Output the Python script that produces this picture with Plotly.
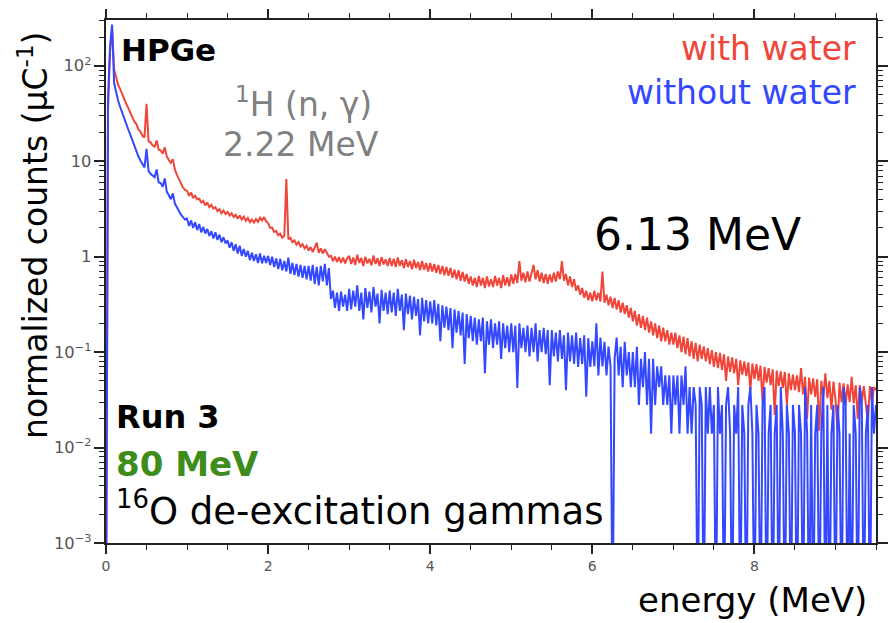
import plotly.graph_objects as go

# ---- data (normalized counts per uC, 25 keV channels) ----
with_water = [
    0.0001, 35, 140, 245, 92, 78, 63, 57, 50, 46, 40, 36, 32, 29.5, 26, 24.5, 21.5, 20.5, 18.5, 17.8,
    40, 16.2, 15.8, 14.6, 14.2, 16.5, 13.2, 13.0, 12.0, 14.0, 11.2, 10.3, 9.6, 10.5, 8.2, 7.2, 6.4, 5.8, 5.3, 5.0,
    4.9, 4.35, 4.7, 4.1, 4.35, 4.0, 4.05, 3.7, 3.85, 3.45, 3.7, 3.3, 3.5, 3.2, 3.3, 3.0, 3.15, 2.85, 3.05, 2.8,
    2.95, 2.7, 2.85, 2.6, 2.75, 2.5, 2.7, 2.45, 2.62, 2.38, 2.55, 2.3, 2.45, 2.28, 2.48, 2.32, 2.56, 2.4, 2.6, 2.35,
    2.25, 2.0, 2.02, 1.82, 1.86, 1.68, 1.74, 1.58, 1.66, 6.5, 1.52, 1.58, 1.42, 1.48, 1.34, 1.42, 1.28, 1.35, 1.22, 1.3,
    1.16, 1.26, 1.12, 1.24, 1.4, 1.1, 1.22, 1.08, 1.2, 1.1, 1.0, 1.02, 0.9, 1.0, 0.88, 0.99, 0.86, 0.98, 0.85, 0.96,
    1.02, 0.84, 0.98, 0.82, 1.05, 0.86, 0.97, 0.8, 1.0, 0.85, 0.95, 0.81, 1.03, 0.84, 0.96, 0.8, 0.99, 0.83, 0.94, 0.8,
    0.97, 0.8, 0.95, 0.78, 0.98, 0.8, 0.92, 0.76, 0.94, 0.78, 0.9, 0.74, 0.93, 0.76, 0.88, 0.72, 0.9, 0.73, 0.86, 0.7,
    0.86, 0.7, 0.84, 0.68, 0.82, 0.66, 0.8, 0.64, 0.78, 0.63, 0.76, 0.6, 0.73, 0.58, 0.72, 0.56, 0.69, 0.55, 0.66, 0.52,
    0.62, 0.5, 0.6, 0.48, 0.63, 0.5, 0.6, 0.47, 0.62, 0.49, 0.58, 0.48, 0.63, 0.5, 0.6, 0.47, 0.64, 0.5, 0.61, 0.49,
    0.65, 0.52, 0.66, 0.53, 0.9, 0.56, 0.68, 0.54, 0.7, 0.55, 0.7, 0.82, 0.58, 0.72, 0.55, 0.68, 0.53, 0.66, 0.52, 0.65,
    0.54, 0.68, 0.55, 0.7, 0.58, 0.9, 0.56, 0.66, 0.5, 0.62, 0.48, 0.58, 0.44, 0.5, 0.4, 0.47, 0.37, 0.44, 0.35, 0.42,
    0.34, 0.44, 0.35, 0.42, 0.34, 0.7, 0.33, 0.4, 0.31, 0.38, 0.29, 0.37, 0.28, 0.35, 0.26, 0.33, 0.25, 0.31, 0.23, 0.29,
    0.21, 0.27, 0.19, 0.25, 0.18, 0.24, 0.17, 0.23, 0.16, 0.21, 0.15, 0.2, 0.14, 0.19, 0.13, 0.18, 0.13, 0.17, 0.12, 0.16,
    0.12, 0.16, 0.11, 0.15, 0.1, 0.145, 0.095, 0.14, 0.09, 0.13, 0.085, 0.125, 0.08, 0.12, 0.085, 0.115, 0.08, 0.11, 0.075, 0.105,
    0.07, 0.1, 0.068, 0.098, 0.065, 0.095, 0.05, 0.09, 0.062, 0.088, 0.06, 0.085, 0.045, 0.082, 0.058, 0.08, 0.056, 0.078, 0.04, 0.076,
    0.052, 0.075, 0.05, 0.072, 0.03, 0.07, 0.048, 0.068, 0.045, 0.066, 0.022, 0.064, 0.044, 0.063, 0.042, 0.062, 0.028, 0.06, 0.04, 0.058,
    0.04, 0.057, 0.038, 0.068, 0.036, 0.055, 0.02, 0.054, 0.036, 0.053, 0.034, 0.052, 0.015, 0.05, 0.034, 0.06, 0.033, 0.05, 0.025, 0.049,
    0.032, 0.015, 0.048, 0.03, 0.047, 0.028, 0.046, 0.03, 0.055, 0.029, 0.045, 0.02, 0.045, 0.03, 0.044, 0.028, 0.018, 0.044, 0.03, 0.043,
    0.04,
]

without_water = [
    0.0001, 45, 160, 270, 66, 52, 43, 37, 32, 28, 24.5, 21.5, 19, 16.5, 14.5, 12.8, 11.2, 10.2, 9.3, 8.6,
    13.5, 7.9, 7.4, 7.0, 6.8, 8.2, 6.0, 5.9, 5.4, 6.6, 4.8, 4.4, 4.0, 4.6, 3.6, 3.3, 3.0, 2.75, 2.6, 2.45,
    2.5, 2.1, 2.4, 2.0, 2.3, 1.9, 2.2, 1.8, 2.05, 1.75, 1.95, 1.65, 1.85, 1.55, 1.8, 1.5, 1.7, 1.42, 1.6, 1.38,
    1.48, 1.24, 1.42, 1.15, 1.35, 1.08, 1.3, 1.02, 1.2, 1.0, 1.15, 0.92, 1.1, 0.9, 1.06, 0.86, 1.08, 0.85, 1.02, 0.86,
    1.02, 0.82, 1.0, 0.78, 0.96, 0.74, 0.95, 0.72, 0.9, 0.7, 0.98, 0.66, 0.86, 0.64, 0.84, 0.62, 0.82, 0.6, 0.8, 0.58,
    0.8, 0.56, 0.82, 0.52, 0.78, 0.5, 0.8, 0.55, 0.84, 0.5, 0.76, 0.36, 0.44, 0.29, 0.42, 0.27, 0.43, 0.3, 0.4, 0.27,
    0.46, 0.28, 0.44, 0.3, 0.5, 0.27, 0.42, 0.22, 0.47, 0.29, 0.43, 0.26, 0.48, 0.3, 0.41, 0.2, 0.45, 0.27, 0.42, 0.25,
    0.44, 0.26, 0.42, 0.24, 0.46, 0.27, 0.4, 0.17, 0.41, 0.25, 0.39, 0.22, 0.38, 0.24, 0.36, 0.15, 0.37, 0.21, 0.35, 0.2,
    0.34, 0.2, 0.35, 0.19, 0.32, 0.13, 0.31, 0.18, 0.3, 0.17, 0.29, 0.11, 0.28, 0.16, 0.27, 0.15, 0.26, 0.075, 0.25, 0.14,
    0.24, 0.13, 0.23, 0.12, 0.22, 0.13, 0.23, 0.06, 0.21, 0.12, 0.22, 0.11, 0.2, 0.12, 0.21, 0.085, 0.2, 0.11, 0.19, 0.1,
    0.2, 0.1, 0.19, 0.042, 0.2, 0.11, 0.18, 0.1, 0.19, 0.09, 0.18, 0.1, 0.2, 0.08, 0.17, 0.1, 0.18, 0.095, 0.17, 0.045,
    0.17, 0.09, 0.16, 0.08, 0.17, 0.085, 0.15, 0.04, 0.16, 0.08, 0.15, 0.075, 0.16, 0.07, 0.14, 0.075, 0.15, 0.034, 0.14, 0.07,
    0.13, 0.071, 0.2, 0.057, 0.142, 0.071, 0.128, 0.057, 0.114, 0.071, 0.0001, 0.085, 0.142, 0.057, 0.114, 0.043, 0.128, 0.057, 0.1, 0.043,
    0.1, 0.043, 0.114, 0.028, 0.085, 0.043, 0.1, 0.028, 0.085, 0.014, 0.085, 0.028, 0.071, 0.043, 0.071, 0.028, 0.057, 0.028, 0.057, 0.014,
    0.057, 0.028, 0.057, 0.014, 0.057, 0.028, 0.071, 0.014, 0.043, 0.014, 0.043, 0.028, 0.0001, 0.043, 0.028, 0.0001, 0.043, 0.014, 0.043, 0.014,
    0.028, 0.0001, 0.043, 0.014, 0.028, 0.0001, 0.028, 0.043, 0.014, 0.0001, 0.028, 0.014, 0.043, 0.0001, 0.028, 0.014, 0.0001, 0.028, 0.043, 0.014,
    0.0001, 0.028, 0.014, 0.0001, 0.028, 0.043, 0.0001, 0.014, 0.028, 0.0001, 0.014, 0.028, 0.0001, 0.043, 0.014, 0.0001, 0.028, 0.014, 0.0001, 0.028,
    0.014, 0.0001, 0.028, 0.014, 0.0001, 0.043, 0.014, 0.0001, 0.028, 0.0001, 0.014, 0.028, 0.0001, 0.014, 0.043, 0.0001, 0.028, 0.0001, 0.014, 0.028,
    0.0001, 0.028, 0.014, 0.0001, 0.043, 0.028, 0.0001, 0.014, 0.0001, 0.028, 0.014, 0.0001, 0.043, 0.028, 0.0001, 0.014, 0.028, 0.0001, 0.043, 0.014,
    0.028,
]

channel_width_mev = 0.025
energy = [round(i * channel_width_mev, 3) for i in range(len(with_water))]

RED = "#F0463A"
BLUE = "#3348FF"
GREEN = "#3D8C1C"
GRAY = "#808080"
AX = "#222222"

fig = go.Figure()
fig.add_trace(go.Scatter(x=energy, y=with_water, mode="lines",
                         line=dict(color=RED, width=2), name="with water"))
fig.add_trace(go.Scatter(x=energy, y=without_water, mode="lines",
                         line=dict(color=BLUE, width=2), name="without water"))

L, R, T, B = 106, 876, 20, 543
W, H = 890, 623


def px(xp, yp):
    return (xp - L) / (R - L), (B - yp) / (B - T)


def ann(text, xp, yp, size, color, xanchor="left", bold=False, angle=0):
    x, y = px(xp, yp)
    if bold:
        text = "<b>" + text + "</b>"
    fig.add_annotation(text=text, x=x, y=y, xref="paper", yref="paper",
                       xanchor=xanchor, yanchor="middle", showarrow=False,
                       textangle=angle,
                       font=dict(family="DejaVu Sans", size=size, color=color))


ann("HPGe", 119, 50, 31, "black", bold=True)
ann("<sup>1</sup>H (n, γ)", 303, 102, 33, GRAY, xanchor="center")
ann("2.22 MeV", 301, 144, 33, GRAY, xanchor="center")
ann("with water", 858, 49, 33, RED, xanchor="right")
ann("without water", 858, 92, 33, BLUE, xanchor="right")
ann("6.13 MeV", 697, 234, 44, "black", xanchor="center")
ann("Run 3", 114, 417, 32, "black", bold=True)
ann("80 MeV", 114, 464, 34, GREEN, bold=True)
ann("<sup>16</sup>O de-excitation gammas", 114, 508, 37, "black")
ann("energy (MeV)", 869, 600, 34, "black", xanchor="right")
ann("normalized counts (µC<sup>-1</sup>)", 33, 236, 33, "black", xanchor="center", angle=-90)

fig.update_layout(width=W, height=H, margin=dict(l=L, r=W - R, t=T, b=H - B, autoexpand=False),
                  plot_bgcolor="white", paper_bgcolor="white", showlegend=False)
fig.update_xaxes(range=[0, 9.5], dtick=2, ticks="outside", ticklen=9, tickwidth=2, tickcolor=AX,
                 showline=True, linecolor=AX, linewidth=2, mirror="allticks", showgrid=False,
                 automargin=False,
                 tickfont=dict(family="DejaVu Sans", size=14, color="#555555"),
                 minor=dict(ticks="outside", ticklen=5, tickwidth=1, tickcolor=AX))
fig.update_yaxes(type="log", range=[-3, 2.48], dtick=1, exponentformat="power",
                 ticks="outside", ticklen=10, tickwidth=2, tickcolor=AX,
                 showline=True, linecolor=AX, linewidth=2, mirror="allticks", showgrid=False,
                 automargin=False,
                 tickfont=dict(family="DejaVu Sans", size=13, color="#555555"),
                 minor=dict(ticks="outside", ticklen=5, tickwidth=1, tickcolor=AX))

fig.write_html("out.html")
